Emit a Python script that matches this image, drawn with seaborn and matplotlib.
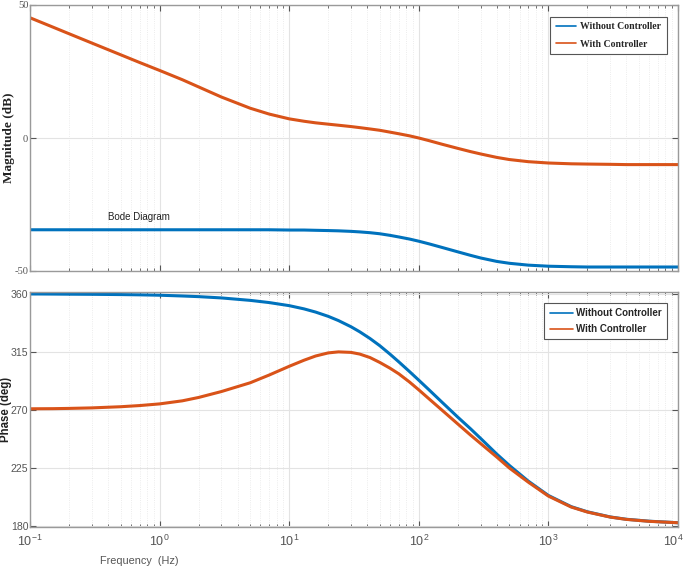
import matplotlib
matplotlib.use("Agg")
import matplotlib.pyplot as plt
import matplotlib.transforms as mtransforms
import seaborn as sns
import pandas as pd
import numpy as np
from matplotlib.ticker import LogLocator, NullFormatter, FixedLocator

sns.set_theme(style="white")
plt.rcParams['font.family'] = ['Liberation Sans Narrow', 'Liberation Sans', 'DejaVu Sans']
plt.rcParams['axes.unicode_minus'] = False

freq = [0.1, 0.15, 0.2, 0.3, 0.5, 0.7, 1, 1.5, 2, 3, 5, 7, 10, 13, 16, 20, 24, 30, 35, 42, 50, 60, 70, 85,
        100, 120, 150, 200, 250, 300, 400, 500, 700, 1000, 1500, 2000, 3000, 4000, 6000, 10000]
mag_without = [-34.5, -34.5, -34.5, -34.5, -34.5, -34.5, -34.5, -34.5, -34.5, -34.5, -34.5, -34.5, -34.6,
               -34.6, -34.7, -34.8, -34.9, -35.1, -35.3, -35.6, -36.0, -36.6, -37.2, -38.0,
               -38.8, -39.8, -41.1, -42.8, -44.1, -45.1, -46.4, -47.1, -47.8, -48.2, -48.4, -48.5,
               -48.5, -48.5, -48.5, -48.5]
mag_with = [45.2, 41.7, 39.2, 35.7, 31.3, 28.4, 25.4, 21.9, 19.2, 15.4, 11.2, 9.0, 7.2,
            6.3, 5.7, 5.2, 4.8, 4.3, 3.9, 3.4, 2.9, 2.2, 1.6, 0.8,
            0.0, -1.0, -2.3, -3.9, -5.1, -6.0, -7.3, -8.1, -8.9, -9.4, -9.7, -9.8,
            -9.9, -10.0, -10.0, -10.0]
phase_without = [360, 359.9, 359.8, 359.7, 359.5, 359.3, 359.0, 358.4, 357.9, 356.9, 355.0, 353.3, 350.9,
                 348.4, 345.9, 342.6, 339.3, 334.5, 330.6, 325.4, 319.8, 313.2, 307.3, 299.6,
                 293.0, 285.5, 276.2, 264.3, 255.4, 247.8, 235.6, 226.8, 214.6, 203.5, 194.8, 190.8,
                 186.8, 185.0, 183.5, 182.3]
phase_with = [270.8, 270.9, 271.1, 271.5, 272.4, 273.3, 274.6, 277.0, 279.6, 284.2, 291.0, 297.0, 303.8,
              308.5, 311.8, 314.2, 315.0, 314.6, 313.3, 310.6, 306.8, 302.3, 298.0, 291.5,
              285.5, 278.5, 270.0, 259.0, 250.5, 243.8, 233.3, 224.8, 213.8, 203.0, 194.5, 190.6,
              186.7, 184.9, 183.4, 182.3]
series = ["Without Controller", "With Controller"]
mag_ticks = [-50, 0, 50]
phase_ticks = [180, 225, 270, 315, 360]
freq_ticks = [0.1, 1, 10, 100, 1000, 10000]
freq_labels = [r"$\mathdefault{10^{-1}}$", r"$\mathdefault{10^{0}}$", r"$\mathdefault{10^{1}}$",
               r"$\mathdefault{10^{2}}$", r"$\mathdefault{10^{3}}$", r"$\mathdefault{10^{4}}$"]

colors = {"Without Controller": "#0072BD", "With Controller": "#D95319"}

mag_df = pd.concat([
    pd.DataFrame({"freq": freq, "value": mag_without, "series": series[0]}),
    pd.DataFrame({"freq": freq, "value": mag_with, "series": series[1]}),
])
ph_df = pd.concat([
    pd.DataFrame({"freq": freq, "value": phase_without, "series": series[0]}),
    pd.DataFrame({"freq": freq, "value": phase_with, "series": series[1]}),
])

fig = plt.figure(figsize=(6.85, 5.69), dpi=100)
ax1 = fig.add_axes([30/685, 1-271/569, 648/685, 266/569])
ax2 = fig.add_axes([30/685, 1-527/569, 648/685, 235/569])

for ax, df in [(ax1, mag_df), (ax2, ph_df)]:
    sns.lineplot(data=df, x="freq", y="value", hue="series", palette=colors, ax=ax,
                 linewidth=2.2, sort=False, estimator=None, legend=True)
    ax.set_xscale("log")
    ax.set_xlim(0.1, 10000)
    ax.set_xticks(freq_ticks)
    ax.set_xticklabels(freq_labels)
    ax.xaxis.set_minor_locator(LogLocator(base=10, subs=np.arange(2, 10), numticks=20))
    ax.xaxis.set_minor_formatter(NullFormatter())
    ax.grid(True, which="major", color="#e3e3e3", linewidth=0.8, linestyle="-")
    ax.grid(True, which="minor", axis="x", color="#e6e6e6", linewidth=0.6, linestyle=":")
    ax.tick_params(which="both", direction="in", top=True, right=True, bottom=True, left=True,
                   colors="#555555", labelsize=9)
    ax.tick_params(which="major", length=4, width=0.8)
    ax.tick_params(which="minor", length=2, width=0.6)
    ax.tick_params(axis="y", pad=1.2, labelsize=7.6)
    for sp in ax.spines.values():
        sp.set_color("#9a9a9a")
        sp.set_linewidth(1.0)
    ax.set_xlabel("")
    ax.set_ylabel("")

ax1.set_ylim(-50, 50)
ax1.yaxis.set_major_locator(FixedLocator(mag_ticks))
ax1.tick_params(axis="x", labelbottom=False)
ax2.set_ylim(179, 361.5)
ax2.yaxis.set_major_locator(FixedLocator(phase_ticks))
ax2.tick_params(axis="x", pad=5)

last = ax2.get_xticklabels()[-1]
last.set_transform(last.get_transform() + mtransforms.ScaledTranslation(-5/100, 0, fig.dpi_scale_trans))

for lab in ax1.get_yticklabels():
    lab.set_family(['Liberation Serif', 'DejaVu Serif'])

ax1.set_ylabel("Magnitude (dB)", fontsize=9.5, fontweight="bold", color="#222222",
               family=['Liberation Serif', 'DejaVu Serif'])
ax1.yaxis.set_label_coords(-0.023, 0.5)
ax2.set_ylabel("Phase (deg)", fontsize=8.3, fontweight="bold", color="#222222",
               family=['Liberation Sans', 'DejaVu Sans'])
ax2.yaxis.set_label_coords(-0.0285, 0.5)

leg1 = ax1.legend(loc="upper right", bbox_to_anchor=(0.991, 0.975), frameon=True, fancybox=False,
                  edgecolor="#555555", framealpha=1, handlelength=2.0, handletextpad=0.5, borderpad=0.6,
                  labelspacing=0.85, prop={'family': ['Liberation Serif', 'DejaVu Serif'],
                                           'weight': 'bold', 'size': 7.0})
leg1.get_frame().set_linewidth(0.8)
leg2 = ax2.legend(loc="upper right", bbox_to_anchor=(0.991, 0.975), frameon=True, fancybox=False,
                  edgecolor="#555555", framealpha=1, handlelength=2.4, handletextpad=0.35, borderpad=0.55,
                  labelspacing=0.6, prop={'family': ['Liberation Sans Narrow', 'Liberation Sans', 'DejaVu Sans'],
                                          'weight': 'bold', 'size': 7.0})
leg2.get_frame().set_linewidth(0.8)
for leg in (leg1, leg2):
    for line in leg.get_lines():
        line.set_linewidth(1.2)

ax1.text(0.12, 0.19, "Bode Diagram", transform=ax1.transAxes, fontsize=7, color="#222222",
         family=['Liberation Sans Narrow', 'Liberation Sans', 'DejaVu Sans'])

fig.text(139/685, 1-561/569, "Frequency  (Hz)", ha="center", va="center", fontsize=7.8, color="#555555",
         family=['Liberation Sans Narrow', 'Liberation Sans', 'DejaVu Sans'])

fig.savefig("out.png", dpi=100, facecolor="white")
